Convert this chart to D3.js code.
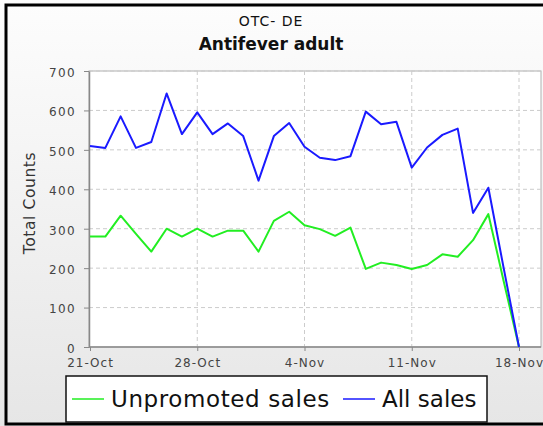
<!DOCTYPE html>
<html>
<head>
<meta charset="utf-8">
<script src="https://cdn.jsdelivr.net/npm/d3@7.9.0/dist/d3.min.js"></script>
<style>
  body { margin: 0; background: #fff; }
  svg { display: block; font-family: "DejaVu Sans", sans-serif; }
</style>
</head>
<body>
<svg id="chart" width="543" height="426"></svg>
<script>
// daily dates, 21-Oct .. 18-Nov
const startDay = new Date(2012, 9, 21);
const dates = d3.timeDay.range(startDay, d3.timeDay.offset(startDay, 29));

const allSales = [510, 505, 585, 505, 520, 643, 540, 595, 540, 567, 535, 422, 535, 568,
  508, 480, 474, 484, 597, 565, 571, 455, 506, 538, 554, 340, 404, 200, 0];
const unpromoted = [280, 280, 333, 287, 242, 300, 280, 300, 280, 295, 295, 242, 320, 343,
  309, 299, 282, 303, 198, 214, 208, 198, 208, 235, 229, 271, 337, 167, 0];

const seriesNames = ["Unpromoted sales", "All sales"];
const seriesColors = ["#22ee22", "#1a1aff"];
const yTicks = [0, 100, 200, 300, 400, 500, 600, 700];

const svg = d3.select("#chart");

// background gradient
const defs = svg.append("defs");
const grad = defs.append("linearGradient")
    .attr("id", "bg").attr("x1", 0).attr("y1", 0).attr("x2", 0).attr("y2", 1);
grad.append("stop").attr("offset", "0%").attr("stop-color", "#fdfdfd");
grad.append("stop").attr("offset", "100%").attr("stop-color", "#e6e6e6");

svg.append("rect").attr("x", 0).attr("y", 0).attr("width", 543).attr("height", 426)
    .attr("fill", "url(#bg)");

// outer frame
svg.append("rect").attr("x", 6).attr("y", 5).attr("width", 560).attr("height", 419)
    .attr("fill", "none").attr("stroke", "#000").attr("stroke-width", 3);

const plot = { left: 89, right: 541, top: 71, bottom: 347 };

let x = d3.scaleTime()
    .domain([dates[0], dates[dates.length - 1]])
    .range([90, 519]);

let y = d3.scaleLinear()
    .domain([0, 700])
    .range([plot.bottom, plot.top]);

// plot area
svg.append("rect")
    .attr("x", plot.left).attr("y", plot.top)
    .attr("width", plot.right - plot.left).attr("height", plot.bottom - plot.top)
    .attr("fill", "#fff").attr("stroke", "#b0b0b0");

const xTicks = d3.timeDay.range(dates[0], d3.timeDay.offset(dates[dates.length - 1], 1), 7);

// grid lines
svg.append("g").selectAll("line")
    .data(yTicks.slice(1))
    .enter().append("line")
    .attr("x1", plot.left).attr("x2", plot.right)
    .attr("y1", d => y(d)).attr("y2", d => y(d))
    .attr("stroke", "#cccccc").attr("stroke-dasharray", "4,3");

svg.append("g").selectAll("line")
    .data(xTicks.slice(1))
    .enter().append("line")
    .attr("x1", d => x(d)).attr("x2", d => x(d))
    .attr("y1", plot.top).attr("y2", plot.bottom)
    .attr("stroke", "#cccccc").attr("stroke-dasharray", "4,3");

// axes
const yAxis = svg.append("g")
    .attr("transform", `translate(${plot.left},0)`)
    .call(d3.axisLeft(y).tickValues(yTicks).tickSize(5).tickPadding(8).tickSizeOuter(0));

const xAxis = svg.append("g")
    .attr("transform", `translate(0,${plot.bottom})`)
    .call(d3.axisBottom(x).tickValues(xTicks).tickSize(4).tickPadding(7)
        .tickFormat(d3.timeFormat("%-d-%b")).tickSizeOuter(0));

xAxis.select(".domain").attr("d", `M${plot.left},0H${plot.right}`);

[yAxis, xAxis].forEach(a => {
    a.select(".domain").attr("stroke", "#888").attr("stroke-width", 1.5);
    a.selectAll(".tick line").attr("stroke", "#888");
    a.selectAll(".tick text").attr("fill", "#444").attr("font-size", 12)
        .attr("letter-spacing", 1.4)
        .attr("font-family", "DejaVu Sans, sans-serif");
});
yAxis.selectAll(".tick text").attr("dy", "0.45em");
xAxis.selectAll(".tick text").attr("letter-spacing", 1.0);

// axis label
svg.append("text")
    .attr("transform", "translate(35,203) rotate(-90)")
    .attr("text-anchor", "middle")
    .attr("font-size", 15.5)
    .attr("letter-spacing", 0.6)
    .attr("fill", "#333")
    .text("Total Counts");

// titles
svg.append("text")
    .attr("x", 271).attr("y", 26)
    .attr("text-anchor", "middle")
    .attr("font-size", 14)
    .attr("letter-spacing", 1)
    .attr("fill", "#111")
    .text("OTC- DE");

svg.append("text")
    .attr("x", 271).attr("y", 50)
    .attr("text-anchor", "middle")
    .attr("font-size", 17)
    .attr("font-weight", "bold")
    .attr("fill", "#111")
    .text("Antifever adult");

// lines
const line = d3.line()
    .x((d, i) => x(dates[i]))
    .y(d => y(d));

[unpromoted, allSales].forEach((values, i) => {
    svg.append("path")
        .datum(values)
        .attr("d", line)
        .attr("fill", "none")
        .attr("stroke", seriesColors[i])
        .attr("stroke-width", 2)
        .attr("stroke-linejoin", "round");
});

// legend
const legend = svg.append("g");
legend.append("rect")
    .attr("x", 66).attr("y", 376).attr("width", 421).attr("height", 46)
    .attr("fill", "#fff").attr("stroke", "#111").attr("stroke-width", 1.5);

const legendX = [72, 343];
seriesNames.forEach((name, i) => {
    legend.append("line")
        .attr("x1", legendX[i]).attr("x2", legendX[i] + 32)
        .attr("y1", 399).attr("y2", 399)
        .attr("stroke", seriesColors[i]).attr("stroke-width", 1.5);
    legend.append("text")
        .attr("x", legendX[i] + 39).attr("y", 407)
        .attr("font-size", 23)
        .attr("letter-spacing", i === 0 ? 0.6 : 0)
        .attr("fill", "#111")
        .text(name);
});
</script>
</body>
</html>
